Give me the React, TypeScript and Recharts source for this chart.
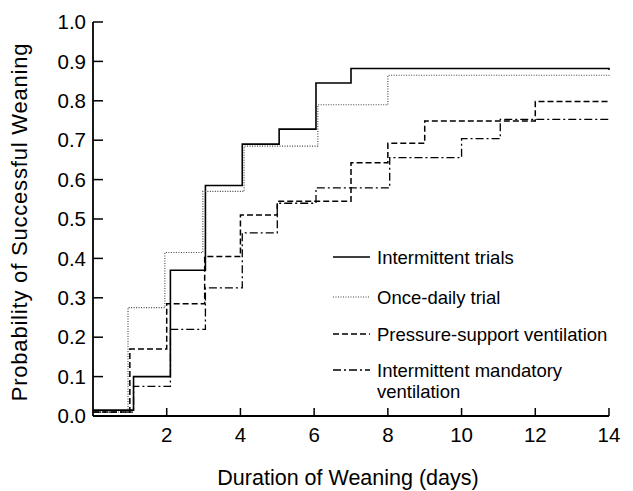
import { Line, LineChart, XAxis, YAxis } from "recharts";

// Kaplan-Meier style step curves: day of each step and the probability reached there
const itDays = [0, 1.1, 2.1, 3.05, 4.05, 5.05, 6.05, 7.0, 14];
const itProb = [0.015, 0.1, 0.37, 0.585, 0.69, 0.728, 0.845, 0.882, 0.878];

const odDays = [0, 0.95, 1.95, 2.98, 4.1, 6.1, 8.0, 14];
const odProb = [0.01, 0.275, 0.415, 0.57, 0.685, 0.79, 0.865, 0.862];

const psDays = [0, 1.0, 2.0, 3.03, 4.0, 5.0, 7.0, 8.0, 9.0, 12.0, 14];
const psProb = [0.01, 0.17, 0.285, 0.405, 0.51, 0.545, 0.643, 0.692, 0.749, 0.798, 0.798];

const imDays = [0, 1.1, 2.1, 3.05, 4.05, 5.0, 6.05, 8.05, 10.0, 11.05, 14];
const imProb = [0.01, 0.075, 0.22, 0.325, 0.465, 0.54, 0.579, 0.656, 0.704, 0.753, 0.75];

const xTicks = [2, 4, 6, 8, 10, 12, 14];
const yTicks = [0, 0.1, 0.2, 0.3, 0.4, 0.5, 0.6, 0.7, 0.8, 0.9, 1.0];

const toRows = (days: number[], probs: number[]) =>
  days.map((d, i) => ({ x: d, y: probs[i] }));

const FONT = "'Liberation Sans', Arial, Helvetica, sans-serif";

const series = [
  { name: "Intermittent trials", data: toRows(itDays, itProb), dash: undefined, width: 1.6, color: "#000" },
  { name: "Once-daily trial", data: toRows(odDays, odProb), dash: "1 1.5", width: 1.1, color: "#444" },
  { name: "Pressure-support ventilation", data: toRows(psDays, psProb), dash: "6 3", width: 1.5, color: "#000" },
  { name: "Intermittent mandatory ventilation", data: toRows(imDays, imProb), dash: "8 3 2 3", width: 1.3, color: "#000" },
];

function LegendBox() {
  const rows = [
    { y: 249, lines: ["Intermittent trials"] },
    { y: 289, lines: ["Once-daily trial"] },
    { y: 326, lines: ["Pressure-support ventilation"] },
    { y: 362, lines: ["Intermittent mandatory", "ventilation"] },
  ];
  const top = 230;
  return (
    <svg
      width={300}
      height={180}
      style={{ position: "absolute", left: 325, top, display: "block" }}
    >
      {rows.map((r, i) => (
        <g key={i}>
          <line
            x1={0}
            x2={37}
            y1={r.y - top}
            y2={r.y - top}
            stroke={series[i].color}
            strokeWidth={series[i].width}
            strokeDasharray={series[i].dash}
          />
          {r.lines.map((t, j) => (
            <text
              key={j}
              x={44}
              y={r.y - top + 6.5 + j * 21}
              fontFamily={FONT}
              fontSize={18.5}
              fill="#000"
            >
              {t}
            </text>
          ))}
        </g>
      ))}
    </svg>
  );
}

export default function App() {
  return (
    <div style={{ position: "relative", width: 625, height: 483 }}>
      <LineChart
        width={625}
        height={483}
        margin={{ top: 14, right: 24, left: 0, bottom: 0 }}
      >
        <XAxis
          type="number"
          dataKey="x"
          domain={[0, 14]}
          ticks={xTicks}
          interval={0}
          height={75}
          tickSize={-8}
          tickMargin={19}
          tick={{ fill: "#000", fontSize: 20.5, fontFamily: FONT }}
          axisLine={{ stroke: "#000", strokeWidth: 1.8 }}
          tickLine={{ stroke: "#000", strokeWidth: 1.5 }}
          label={{
            content: () => (
              <text x={340} y={477} textAnchor="middle" fontFamily={FONT} fontSize={21.5} fill="#000">
                Duration of Weaning (days)
              </text>
            ),
          }}
        />
        <YAxis
          type="number"
          dataKey="y"
          domain={[0, 1]}
          ticks={yTicks}
          interval={0}
          width={85}
          tickSize={-10}
          tickMargin={17}
          tickFormatter={(v: number) => v.toFixed(1)}
          tick={{ fill: "#000", fontSize: 20.5, fontFamily: FONT }}
          axisLine={{ stroke: "#000", strokeWidth: 1.8 }}
          tickLine={{ stroke: "#000", strokeWidth: 1.5 }}
          label={{
            content: () => (
              <text
                x={18.5}
                y={214}
                transform="rotate(-90, 18.5, 214)"
                textAnchor="middle"
                fontFamily={FONT}
                fontSize={22}
                letterSpacing={0.8}
                fill="#000"
              >
                Probability of Successful Weaning
              </text>
            ),
          }}
        />
        {series.map((s) => (
          <Line
            key={s.name}
            data={s.data}
            dataKey="y"
            name={s.name}
            type="stepAfter"
            stroke={s.color}
            strokeWidth={s.width}
            strokeDasharray={s.dash}
            dot={false}
            activeDot={false}
            isAnimationActive={false}
          />
        ))}
      </LineChart>
      <LegendBox />
    </div>
  );
}
